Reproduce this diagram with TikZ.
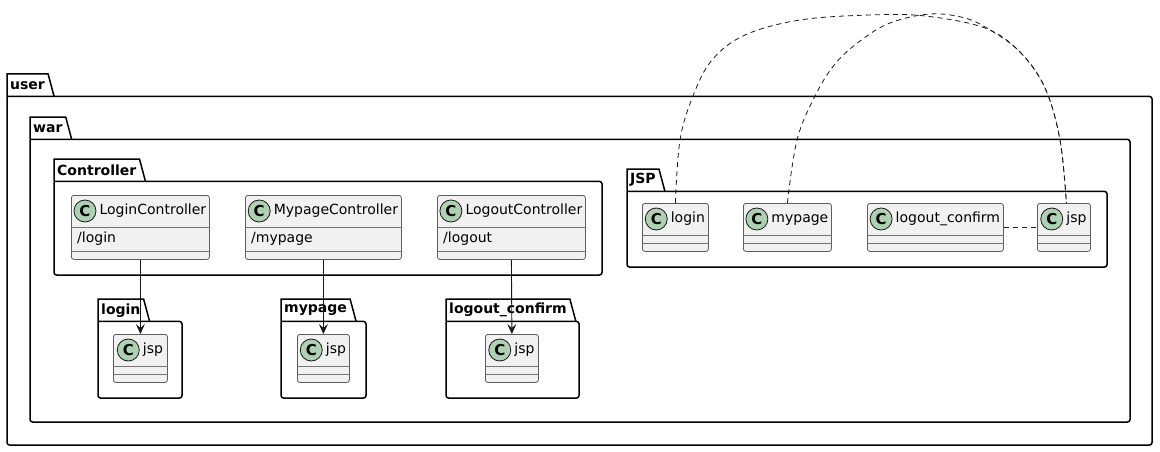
\documentclass[tikz,border=0pt]{standalone}
\usepackage{fontspec}
\setmainfont{DejaVu Sans}
\usetikzlibrary{positioning,calc,arrows.meta}

\definecolor{clsfill}{HTML}{F1F1F1}
\definecolor{clsline}{HTML}{181818}
\definecolor{spotfill}{HTML}{ADD1B2}

% package: name, label, left, top, right, bottom
\newcommand{\umlpackage}[6]{%
  \node[pkgtab, anchor=north west] (#1) at (#3,#4) {#2};
  \draw[pkg] (#1.south west) -- (#1.north west) -- (#1.north east) -- ($(#1.south east)+(6,0)$);
  \draw[pkg, rounded corners=2.5pt] (#1.south west) -| (#5,#6) -| (#1.south west);
}

% class: name, left, top, width, height, title, attribute
\newcommand{\umlclass}[7]{%
  \node[cls, minimum width=#4pt, minimum height=#5pt, anchor=north west] (#1) at (#2,#3) {};
  \node[clstitle] (#1-t) at ($(#1.north)+(12.5,16)$) {#6};
  \node[spot, left=3pt of #1-t] (#1-c) {C};
  \draw[clssep] ($(#1.north west)+(0,32)$) -- ($(#1.north east)+(0,32)$);
  \draw[clssep] ($(#1.south west)+(0,-8)$) -- ($(#1.south east)+(0,-8)$);
  \node[anchor=west, inner sep=0pt] at ($(#1.north west)+(6,44)$) {#7};
}

\begin{document}
\begin{tikzpicture}[x=1pt, y=-1pt,
    font=\fontsize{14}{17}\selectfont,
    pkg/.style={line width=1.5pt, black},
    pkgtab/.style={inner xsep=3pt, inner ysep=0pt, minimum height=22pt,
      font=\fontsize{14}{17}\selectfont\bfseries},
    cls/.style={draw=clsline!70, fill=clsfill, line width=0.8pt, rounded corners=2.5pt, inner sep=0pt},
    clssep/.style={draw=clsline!60, line width=0.8pt},
    clstitle/.style={inner sep=0pt, text height=10.5pt, text depth=3pt},
    spot/.style={circle, draw=clsline, fill=spotfill, line width=0.8pt, minimum size=22pt,
      inner sep=0pt, font=\fontsize{15}{15}\selectfont\bfseries},
    uses/.style={line width=0.9pt, clsline, -{Stealth[length=10pt, width=9pt, inset=4pt]}},
    link/.style={line width=0.8pt, clsline, dash pattern=on 5pt off 4pt}]
  \useasboundingbox (0,0) rectangle (1160,452);

  % packages
  \umlpackage{pUser}{user}{7}{74}{1152}{445}
  \umlpackage{pWar}{war}{30}{117}{1130}{422}
  \umlpackage{pCtrl}{Controller}{54}{159}{602}{275}
  \umlpackage{pJsp}{JSP}{627}{169}{1107}{267}
  \umlpackage{pLogin}{login}{98}{299}{182}{398}
  \umlpackage{pMypage}{mypage}{281}{299}{366}{398}
  \umlpackage{pLogout}{logout\_confirm}{446}{299}{579}{398}

  % controllers
  \umlclass{loginCtrl}{71}{195}{138}{64}{LoginController}{/login}
  \umlclass{mypageCtrl}{245}{195}{156}{64}{MypageController}{/mypage}
  \umlclass{logoutCtrl}{437}{195}{148}{64}{LogoutController}{/logout}

  % jsp pages
  \umlclass{loginJsp}{113}{334}{54}{48}{jsp}{}
  \umlclass{mypageJsp}{297}{334}{52}{48}{jsp}{}
  \umlclass{logoutJsp}{485}{334}{53}{48}{jsp}{}

  \umlclass{jspLogin}{642}{203}{66}{48}{login}{}
  \umlclass{jspMypage}{743}{203}{88}{48}{mypage}{}
  \umlclass{jspLogout}{867}{203}{136}{48}{logout\_confirm}{}
  \umlclass{jspJsp}{1037}{203}{53}{48}{jsp}{}

  % connectors
  \draw[uses] (loginCtrl.south) -- (loginJsp.north);
  \draw[uses] (mypageCtrl.south) -- (mypageJsp.north);
  \draw[uses] (logoutCtrl.south) -- (logoutJsp.north);

  \coordinate (jspTop) at ($(jspJsp.north)+(2.5,0)$);
  \draw[link] plot[smooth, tension=0.6] coordinates {(jspLogin.north) (680,140) (693,96)
    (712,60) (745,35) (800,20) (870,15) (925,16) (985,28) (1020,52) (1045,88) (1060,140) (jspTop)};
  \draw[link] plot[smooth, tension=0.6] coordinates {(jspMypage.north) (797,140) (815,96)
    (835,64) (860,41) (890,23) (930,14) (965,18) (990,30) (1020,52) (1045,88) (1060,140) (jspTop)};
  \draw[link] (jspLogout.east) -- (jspJsp.west);
\end{tikzpicture}
\end{document}
